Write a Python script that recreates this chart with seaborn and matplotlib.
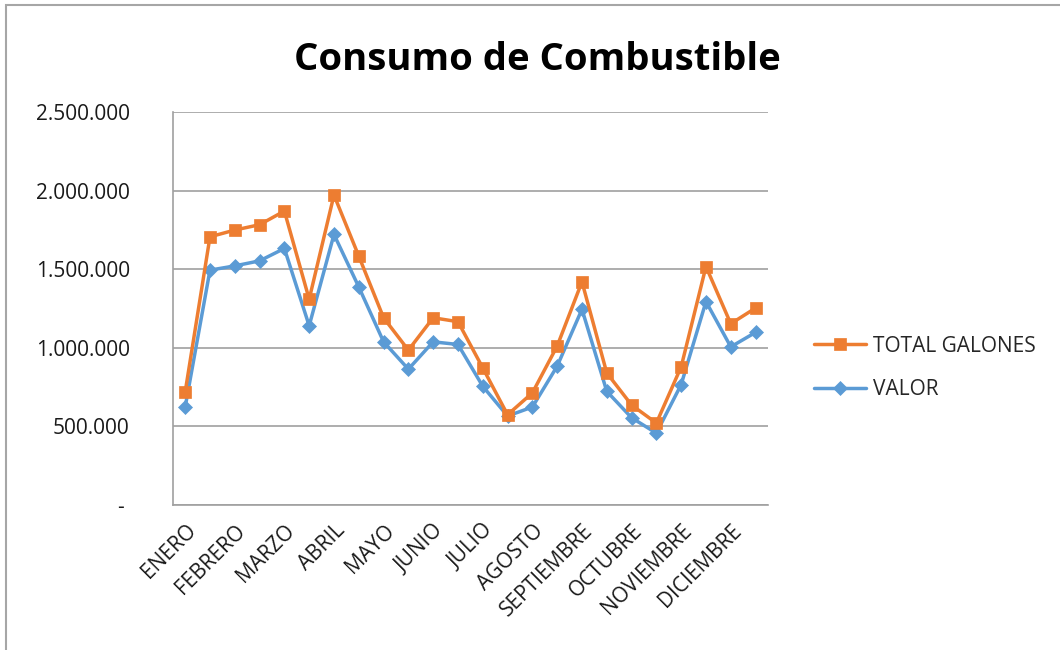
import pandas as pd
import seaborn as sns
import matplotlib.pyplot as plt
import matplotlib.transforms as mtransforms
from matplotlib.patches import Rectangle
from matplotlib.ticker import FuncFormatter
import numpy as np

# Datos (24 periodos, etiqueta de mes cada 2)
meses = ['ENERO', 'FEBRERO', 'MARZO', 'ABRIL', 'MAYO', 'JUNIO', 'JULIO',
         'AGOSTO', 'SEPTIEMBRE', 'OCTUBRE', 'NOVIEMBRE', 'DICIEMBRE']
total_galones = [719000, 1706000, 1749000, 1783000, 1870000, 1309000, 1972000, 1583000,
                 1191000, 985000, 1191000, 1166000, 872000, 574000, 713000, 1011000,
                 1420000, 840000, 636000, 521000, 879000, 1517000, 1153000, 1253000]
valor = [623000, 1494000, 1521000, 1553000, 1632000, 1140000, 1721000, 1387000,
         1038000, 864000, 1038000, 1021000, 755000, 566000, 623000, 883000,
         1245000, 723000, 555000, 457000, 766000, 1294000, 1006000, 1098000]
periodo = list(range(len(total_galones)))

df = pd.DataFrame({'periodo': periodo, 'TOTAL GALONES': total_galones, 'VALOR': valor})

sns.set_style('white')
plt.rcParams['font.family'] = ['Open Sans', 'DejaVu Sans']

fig = plt.figure(figsize=(10.6, 6.5), dpi=100)
ax = fig.add_axes([0.163, 0.2231, 0.5615, 0.6046])

naranja = '#ED7D31'
azul = '#5B9BD5'

# VALOR primero para que quede debajo
sns.lineplot(data=df, x='periodo', y='VALOR', ax=ax, color=azul, linewidth=2.5,
             marker='D', markersize=7, markeredgewidth=0.5, markeredgecolor=azul,
             label='VALOR')
sns.lineplot(data=df, x='periodo', y='TOTAL GALONES', ax=ax, color=naranja, linewidth=2.5,
             marker='s', markersize=8.5, markeredgewidth=0.5, markeredgecolor=naranja,
             label='TOTAL GALONES')

ax.set_xlim(-0.5, len(periodo) - 0.5)
ax.set_ylim(0, 2500000)
ax.set_yticks(np.arange(0, 2500001, 500000))


def fmt_miles(v, pos):
    if v == 0:
        return '- '
    return f'{int(v):,}'.replace(',', '.')


ax.yaxis.set_major_formatter(FuncFormatter(fmt_miles))
ax.set_xticks(periodo[::2])
ax.set_xticklabels(meses, rotation=45, ha='right', va='top', rotation_mode='anchor')
offset = mtransforms.ScaledTranslation(6 / 100, 0, fig.dpi_scale_trans)
for lbl in ax.get_xticklabels():
    lbl.set_transform(lbl.get_transform() + offset)

ax.set_xlabel('')
ax.set_ylabel('')
ax.tick_params(axis='y', length=0, pad=31, labelsize=15, labelcolor='#1a1a1a')
ax.tick_params(axis='x', length=0, pad=11, labelsize=15, labelcolor='#1a1a1a')

ax.grid(axis='y', color='#a0a0a0', linewidth=1.2)
ax.grid(axis='x', visible=False)
for s in ['top', 'right']:
    ax.spines[s].set_visible(False)
for s in ['left', 'bottom']:
    ax.spines[s].set_color('#a0a0a0')
    ax.spines[s].set_linewidth(1.2)

handles, labels = ax.get_legend_handles_labels()
ax.legend(handles[::-1], labels[::-1], loc='center left',
          bbox_to_anchor=(814 / 1060, 1 - 368 / 650), bbox_transform=fig.transFigure,
          frameon=False, fontsize=15, handlelength=2.5, handletextpad=0.35,
          labelspacing=1.1, borderaxespad=0, borderpad=0)

fig.text(0.507, 1 - 70 / 650, 'Consumo de Combustible', ha='center', va='baseline',
         fontsize=27.5, fontweight='bold', color='black')

fig.patches.append(Rectangle((6 / 1060, -0.1), 1.2, (650 - 5) / 650 + 0.1,
                             transform=fig.transFigure, fill=False,
                             edgecolor='#a6a6a6', linewidth=1.5))

fig.savefig('out.png', dpi=100)
